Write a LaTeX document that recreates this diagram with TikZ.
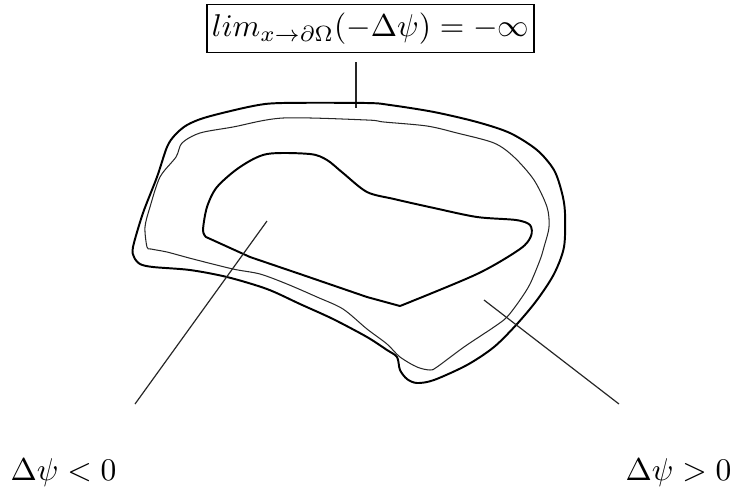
\documentclass[tikz,border=0pt]{standalone}
\begin{document}
\begin{tikzpicture}[x=0.3175pt,y=-0.3175pt,
  thickcurve/.style={line width=0.62pt,line join=round},
  thincurve/.style={line width=0.33pt,line join=round,black!85},
  pointer/.style={line width=0.38pt,black!85},
  formulabox/.style={draw,line width=0.4pt,inner xsep=1.6pt,inner ysep=2.6pt},
  lbl/.style={inner sep=0pt,anchor=base}]
\useasboundingbox (0,0) rectangle (734,493);
% formula box and its pointer
\node[formulabox] (box) at (370.5,28.5) {$lim_{x\rightarrow\partial\Omega}(-\Delta\psi) = -\infty$};
\coordinate (t1) at (356,62);
\coordinate (t2) at (356,108);
\draw[pointer] (t1) -- (t2);
% outer boundary
\draw[thickcurve] plot[smooth cycle,tension=0.5] coordinates {
 (133,247) (143,213) (157,177) (167,147) (175,135) (187,125) (207,117) (253,106) (282,103)
 (367,103) (390,105) (434,112) (477,122) (510,133) (537,150) (554,170) (562,193)
 (565,213) (564,247) (554,274) (537,300) (517,324) (494,347) (467,365) (434,380)
 (417,383) (407,379) (400,370) (397,357) (387,350) (367,337) (333,319) (300,304)
 (267,289) (227,277) (190,270) (153,267) (140,264) (134,257)};
% second (thin) boundary
\draw[thincurve] plot[smooth cycle,tension=0.5] coordinates {
 (147,247) (145,227) (150,207) (160,177) (176,157) (182,143) (200,133) (233,127)
 (283,118) (367,120) (384,122) (427,126) (457,133) (494,143) (514,157) (534,180)
 (547,207) (549,227) (544,247) (540,260) (530,284) (520,300) (507,317) (494,327)
 (464,347) (437,367) (430,370) (417,367) (400,357) (387,344) (367,329) (343,309)
 (317,297) (287,284) (260,274) (233,269) (193,259) (167,252) (151,249)};
% inner region
\draw[thickcurve] plot[smooth,tension=0.5] coordinates {
 (400,306) (477,274) (520,249) (531,236) (530,225) (516,220) (477,217) (434,208)
 (394,199) (367,192) (343,173) (327,160) (310,154) (267,154) (240,167) (217,187)
 (207,207) (203,230) (206,237)}
 -- (250,257) -- (300,274) -- (367,297) -- (400,306);
% pointers to the labels
\coordinate (la) at (267,221);
\coordinate (lb) at (135,404);
\draw[pointer] (la) -- (lb);
\coordinate (ra) at (484,300);
\coordinate (rb) at (619,404);
\draw[pointer] (ra) -- (rb);
\node[lbl] (neg) at (63.5,480) {$\Delta\psi < 0$};
\node[lbl] (pos) at (678.5,480) {$\Delta\psi > 0$};
\end{tikzpicture}
\end{document}
